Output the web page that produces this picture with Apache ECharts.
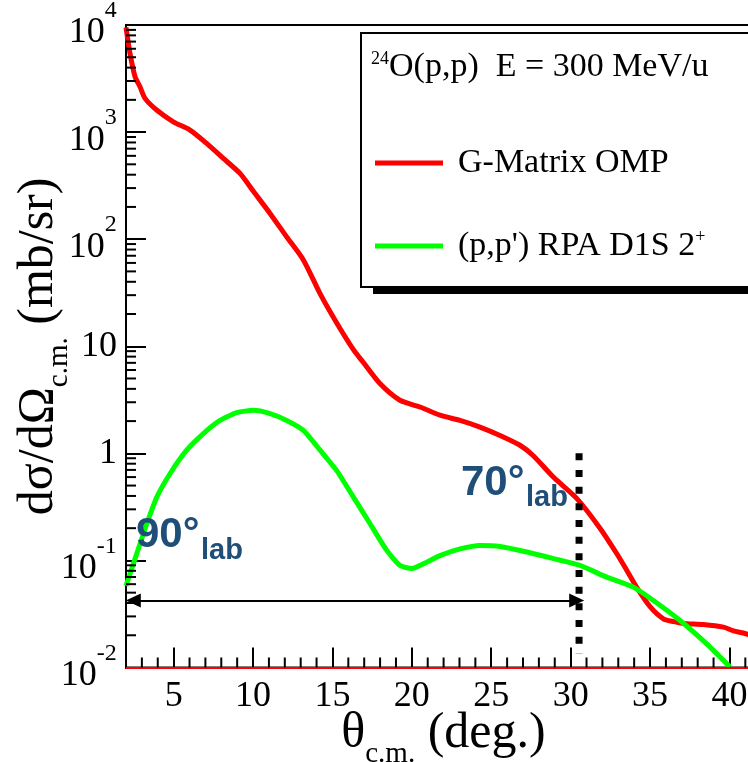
<!DOCTYPE html>
<html><head><meta charset="utf-8">
<script src="https://cdn.jsdelivr.net/npm/echarts@6/dist/echarts.min.js"></script>
<style>html,body{margin:0;padding:0;background:#fff}#c{width:748px;height:762px}</style>
</head><body><div id="c"></div>
<script>
// ---- data ----
const redName = 'G-Matrix OMP';
const greenName = "(p,p') RPA D1S 2+";
const redX = [2.0, 2.25, 2.57, 2.88, 3.2, 3.93, 4.98, 6.03, 7.08, 8.13, 9.18, 10.02, 11.07, 12.12, 13.17, 14.22, 15.27, 16.32, 16.9, 17.99, 19.25, 20.51, 21.77, 23.03, 24.29, 25.55, 26.81, 27.65, 28.91, 30.38, 31.85, 32.9, 33.53, 34.16, 35.0, 35.84, 36.5, 37.1, 38.36, 39.62, 40.25, 41.1, 42.0];
const redY = [9500, 5450, 3290, 2650, 2066, 1607, 1248, 1044, 784, 568, 411, 280, 174, 105, 64, 31, 16.5, 9.3, 7.2, 4.48, 3.13, 2.71, 2.27, 2.03, 1.76, 1.47, 1.19, 0.95, 0.60, 0.38, 0.20, 0.116, 0.081, 0.056, 0.037, 0.0285, 0.0268, 0.0258, 0.0252, 0.0238, 0.022, 0.0205, 0.018];
const greenX = [2.0, 2.68, 3.31, 3.94, 4.77, 5.82, 6.87, 7.92, 8.97, 10.02, 11.07, 12.12, 13.17, 14.22, 15.27, 16.32, 17.37, 18.42, 19.26, 20.0, 20.94, 21.77, 23.03, 24.29, 25.55, 27.24, 28.91, 30.59, 32.27, 33.95, 35.21, 36.89, 38.57, 40.04];
const greenY = [0.058, 0.116, 0.22, 0.39, 0.645, 1.07, 1.53, 2.03, 2.40, 2.52, 2.35, 2.03, 1.64, 1.07, 0.69, 0.39, 0.22, 0.124, 0.0897, 0.084, 0.0963, 0.111, 0.128, 0.138, 0.135, 0.120, 0.104, 0.0897, 0.0698, 0.0563, 0.0423, 0.0275, 0.0166, 0.0101];
const baselineRed = 0.0103;
const cutX = [30.53, 30.53];
const cutY = [1.0, 0.0135];
const arrowX = [2.46, 30.38];
const arrowY = [0.0423, 0.0423];
const xRange = [2, 42];
const yRange = [0.01, 10000];
const xMinorTicks = [3,4,6,7,8,9,11,12,13,14,16,17,18,19,21,22,23,24,26,27,28,29,31,32,33,34,36,37,38,39,41];
const yMinorMant = [2,3,4,5,6,7,8,9];
const yDecades = [0.01, 0.1, 1, 10, 100, 1000];
const legendTitle = '{s|24}{m|O(p,p)  E = 300 MeV/u}';
const note90 = ['90°', 'lab'];
const note70 = ['70°', 'lab'];
// ----------------------------------------

const SERIF = "'Liberation Serif','Times New Roman',serif";
const SANS = "'Liberation Sans',Arial,sans-serif";
const yMinorTicks = [];
yDecades.forEach(d => yMinorMant.forEach(m => yMinorTicks.push(m * d)));
const zip = (a, b) => a.map((v, i) => [v, b[i]]);

const titleRich = {
  m: {fontSize: 50, fontFamily: SERIF, color: '#000', lineHeight: 50, verticalAlign: 'top'},
  s: {fontSize: 29, fontFamily: SERIF, color: '#000', lineHeight: 37, verticalAlign: 'bottom'},
  z: {fontSize: 1, lineHeight: 60, verticalAlign: 'bottom'}
};

const chart = echarts.init(document.getElementById('c'), null, {renderer: 'canvas'});
const option = {
  animation: false,
  backgroundColor: '#fff',
  grid: {left: 126, top: 25, right: -13.2, bottom: 94.5, show: true, borderColor: '#000', borderWidth: 2, containLabel: false, outerBoundsMode: 'none'},
  xAxis: {
    type: 'value', min: xRange[0], max: xRange[1], splitNumber: 8,
    axisLine: {show: true, lineStyle: {color: '#000', width: 2}},
    axisTick: {show: true, inside: true, length: 20, lineStyle: {color: '#000', width: 2}},
    axisLabel: {showMinLabel: false, showMaxLabel: false, fontSize: 36, fontFamily: SERIF, color: '#000', margin: 11},
    splitLine: {show: false},
    name: '{m|θ}{s|c.m.}{m| (deg.)}{z| }', nameLocation: 'middle', nameGap: 41, nameMoveOverlap: false,
    nameTextStyle: {color: '#000', rich: titleRich}
  },
  yAxis: {
    type: 'log', logBase: 10, min: yRange[0], max: yRange[1],
    axisLine: {show: true, lineStyle: {color: '#000', width: 2}},
    axisTick: {show: true, inside: true, length: 20, lineStyle: {color: '#000', width: 2}},
    splitLine: {show: false},
    axisLabel: {
      margin: 9, color: '#000',
      formatter: v => {
        const e = Math.round(Math.log10(v));
        if (e === 0) return '{n|1}';
        if (e === 1) return '{n|10}';
        return '{b|10}{s|' + (e < 0 ? '-' + (-e) : e) + '}{z| }';
      },
      rich: {
        n: {fontSize: 36, fontFamily: SERIF, color: '#000', lineHeight: 36},
        b: {fontSize: 36, fontFamily: SERIF, color: '#000', lineHeight: 36, verticalAlign: 'bottom'},
        s: {fontSize: 24, fontFamily: SERIF, color: '#000', lineHeight: 46, verticalAlign: 'top'},
        z: {fontSize: 1, lineHeight: 52, verticalAlign: 'bottom'}
      }
    },
    name: '{m|dσ/dΩ}{s|c.m.}{m| (mb/sr)}{z| }', nameLocation: 'middle', nameGap: 52, nameRotate: 90, nameMoveOverlap: false,
    nameTextStyle: {color: '#000', rich: titleRich}
  },
  legend: {
    show: true, orient: 'vertical', left: 375, top: 145, padding: 0, z: 10,
    itemWidth: 68, itemHeight: 5, itemGap: 47, icon: 'rect', selectedMode: false,
    data: [redName, greenName],
    formatter: n => n === greenName ? "(p,p') RPA D1S 2{sup|+}" : n,
    textStyle: {fontFamily: SERIF, fontSize: 34, color: '#000', lineHeight: 36, padding: [0, 0, 0, 10],
      rich: {sup: {fontFamily: SERIF, fontSize: 18, color: '#000', lineHeight: 18, verticalAlign: 'top'}}}
  },
  graphic: [
    {type: 'rect', z: 3, shape: {x: 373, y: 40, width: 420, height: 254}, style: {fill: '#000'}},
    {type: 'rect', z: 4, shape: {x: 361, y: 33, width: 420, height: 254}, style: {fill: '#fff', stroke: '#000', lineWidth: 2}},
    {type: 'text', z: 5, x: 371, y: 50, style: {text: legendTitle, verticalAlign: 'top', rich: {
      s: {fontFamily: SERIF, fontSize: 18, fill: '#000', lineHeight: 18, verticalAlign: 'top'},
      m: {fontFamily: SERIF, fontSize: 34, fill: '#000', lineHeight: 34, padding: [7, 0, 0, 0], verticalAlign: 'bottom'}
    }}},
    {type: 'text', z: 20, x: 136, y: 535, style: {text: note90[0], fontFamily: SANS, fontWeight: 'bold', fontSize: 42, fill: '#1f4e79', verticalAlign: 'middle'}},
    {type: 'text', z: 20, x: 201, y: 551, style: {text: note90[1], fontFamily: SANS, fontWeight: 'bold', fontSize: 29, fill: '#1f4e79', verticalAlign: 'middle'}},
    {type: 'text', z: 20, x: 461, y: 483, style: {text: note70[0], fontFamily: SANS, fontWeight: 'bold', fontSize: 42, fill: '#1f4e79', verticalAlign: 'middle'}},
    {type: 'text', z: 20, x: 526, y: 498, style: {text: note70[1], fontFamily: SANS, fontWeight: 'bold', fontSize: 29, fill: '#1f4e79', verticalAlign: 'middle'}}
  ],
  series: [
    {
      name: redName, type: 'line', data: zip(redX, redY), showSymbol: false, smooth: 0.25, z: 3,
      color: '#ff0000', lineStyle: {color: '#ff0000', width: 5},
      markLine: {silent: true, symbol: 'none', label: {show: false}, lineStyle: {color: '#ff0000', width: 2, type: 'solid'}, data: [{yAxis: baselineRed}]}
    },
    {
      name: greenName, type: 'line', data: zip(greenX, greenY), showSymbol: false, smooth: 0.2, z: 4,
      color: '#00ff00', lineStyle: {color: '#00ff00', width: 5}
    },
    {
      name: 'cut', type: 'line', data: zip(cutX, cutY), showSymbol: false, z: 6,
      lineStyle: {color: '#000', width: 7, type: [7, 9.67], cap: 'butt'}
    },
    {
      name: 'range', type: 'line', data: [], z: 6,
      markLine: {silent: true, symbol: ['triangle', 'triangle'], symbolSize: [14, 15], label: {show: false},
        lineStyle: {color: '#000', width: 2, type: 'solid'},
        itemStyle: {color: '#000'},
        data: [[{coord: [arrowX[0], arrowY[0]]}, {coord: [arrowX[1], arrowY[1]]}]]}
    },
    {
      name: 'yminor', type: 'custom', silent: true, z: 7,
      data: yMinorTicks.map(v => [xRange[0], v]),
      renderItem: (p, api) => {
        const c = api.coord([api.value(0), api.value(1)]);
        return {type: 'line', shape: {x1: c[0], y1: c[1], x2: c[0] + 10, y2: c[1]}, style: {stroke: '#000', lineWidth: 2}};
      }
    },
    {
      name: 'xminor', type: 'custom', silent: true, z: 7,
      data: xMinorTicks.map(v => [v, yRange[0]]),
      renderItem: (p, api) => {
        const c = api.coord([api.value(0), api.value(1)]);
        return {type: 'line', shape: {x1: c[0], y1: c[1], x2: c[0], y2: c[1] - 10}, style: {stroke: '#000', lineWidth: 2}};
      }
    }
  ]
};
chart.setOption(option);
</script>
</body></html>
